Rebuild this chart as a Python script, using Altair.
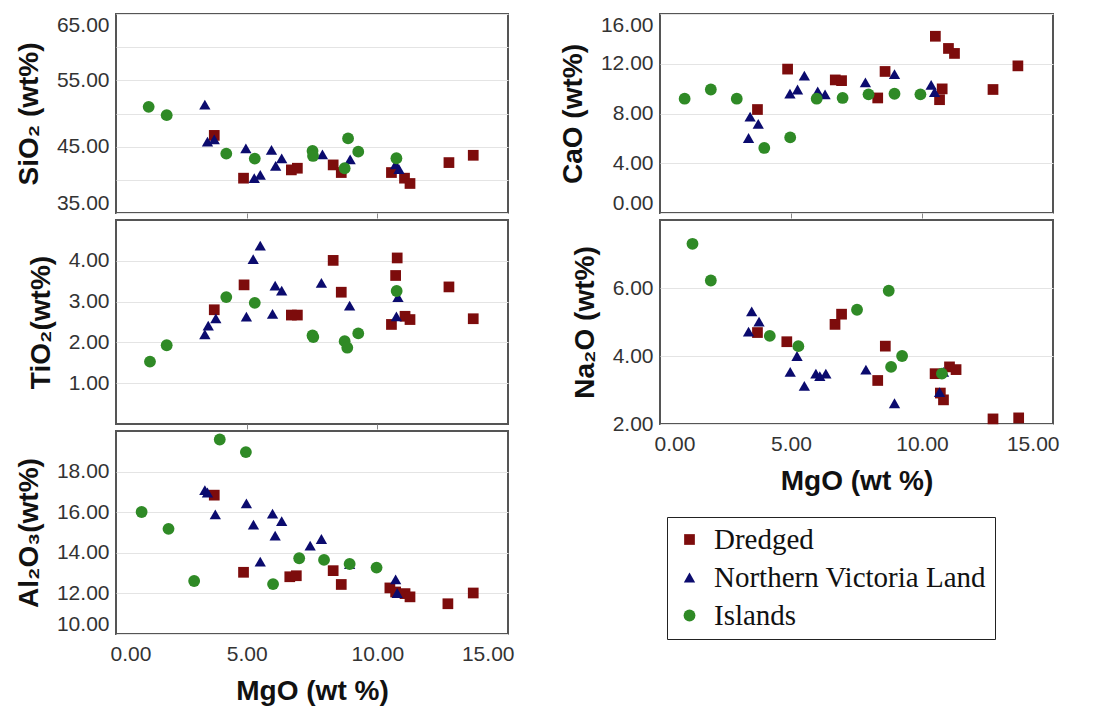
import altair as alt
import pandas as pd

GROUPS = ["Dredged", "Northern Victoria Land", "Islands"]
COLORS = ["#7d0c0c", "#0b0b6e", "#2f8a26"]
SHAPES = ["square", "triangle-up", "circle"]
SIZES = [115, 140, 80]

# ---- SiO2 panel ----
sio2_d_x = [3.76, 4.88, 6.71, 6.94, 8.31, 8.62, 10.54, 11.04, 11.25, 12.74, 13.67]
sio2_d_y = [46.7, 40.25, 41.5, 41.75, 42.25, 41.1, 41.1, 40.25, 39.45, 42.6, 43.7]
sio2_n_x = [3.40, 3.50, 3.76, 4.97, 5.29, 5.52, 5.95, 6.11, 6.34, 7.90, 8.96, 10.70, 10.83]
sio2_n_y = [51.35, 45.75, 46.1, 44.75, 40.25, 40.75, 44.5, 42.1, 43.25, 43.85, 43.1, 42.35, 41.6]
sio2_i_x = [1.25, 1.94, 4.22, 5.31, 7.52, 7.54, 8.88, 9.27, 8.75, 10.73]
sio2_i_y = [51.0, 49.75, 43.95, 43.2, 44.35, 43.6, 46.25, 44.25, 41.75, 43.25]

# ---- TiO2 panel ----
tio2_d_x = [3.76, 4.90, 6.71, 6.94, 8.31, 8.62, 10.54, 10.70, 10.76, 11.06, 11.25, 12.74, 13.67]
tio2_d_y = [2.80, 3.41, 2.67, 2.67, 4.01, 3.23, 2.44, 3.64, 4.07, 2.64, 2.56, 3.36, 2.58]
tio2_n_x = [3.40, 3.53, 3.82, 4.99, 5.25, 5.52, 5.99, 6.09, 6.34, 7.86, 8.94, 10.73, 10.79]
tio2_n_y = [2.20, 2.41, 2.59, 2.63, 4.04, 4.37, 2.70, 3.39, 3.27, 3.46, 2.90, 2.64, 3.11]
tio2_i_x = [1.30, 1.94, 4.22, 5.31, 7.52, 7.55, 8.75, 8.85, 9.27, 10.74]
tio2_i_y = [1.53, 1.93, 3.11, 2.97, 2.17, 2.13, 2.03, 1.87, 2.22, 3.26]

# ---- Al2O3 panel ----
al_d_x = [3.76, 4.88, 6.65, 6.90, 8.31, 8.62, 10.48, 10.70, 11.06, 11.25, 12.70, 13.67]
al_d_y = [16.84, 13.04, 12.82, 12.87, 13.12, 12.44, 12.27, 12.07, 11.99, 11.83, 11.49, 12.02]
al_n_x = [3.40, 3.50, 3.80, 4.99, 5.26, 5.52, 5.99, 6.09, 6.34, 7.43, 7.86, 8.94, 10.70, 10.76]
al_n_y = [17.09, 16.97, 15.89, 16.44, 15.39, 13.57, 15.93, 14.85, 15.56, 14.35, 14.68, 13.44, 12.69, 12.02]
al_i_x = [0.98, 2.01, 2.99, 3.97, 4.97, 6.01, 7.01, 7.96, 8.94, 9.97]
al_i_y = [16.01, 15.18, 12.61, 19.58, 18.96, 12.46, 13.73, 13.65, 13.45, 13.27]

# ---- CaO panel ----
cao_d_x = [3.72, 4.87, 6.69, 6.93, 8.31, 8.59, 10.51, 10.67, 10.77, 11.01, 11.24, 12.71, 13.66]
cao_d_y = [8.32, 11.57, 10.70, 10.64, 9.25, 11.38, 14.21, 9.11, 9.98, 13.23, 12.83, 9.93, 11.83]
cao_n_x = [3.38, 3.44, 3.75, 4.96, 5.25, 5.51, 6.02, 6.30, 7.84, 8.95, 10.35, 10.48]
cao_n_y = [6.03, 7.74, 7.16, 9.59, 9.93, 11.04, 9.77, 9.54, 10.51, 11.17, 10.30, 9.72]
cao_i_x = [0.94, 1.94, 2.93, 3.98, 4.97, 5.98, 6.97, 7.96, 8.95, 9.94]
cao_i_y = [9.19, 9.93, 9.19, 5.23, 6.08, 9.19, 9.25, 9.54, 9.59, 9.54]

# ---- Na2O panel ----
na_d_x = [3.72, 4.84, 6.68, 6.93, 8.31, 8.60, 10.50, 10.70, 10.82, 11.05, 11.30, 12.71, 13.69]
na_d_y = [4.69, 4.42, 4.93, 5.23, 3.28, 4.29, 3.48, 2.91, 2.71, 3.68, 3.60, 2.15, 2.18]
na_n_x = [3.38, 3.50, 3.78, 4.97, 5.23, 5.51, 5.95, 6.10, 6.33, 7.86, 8.95, 10.67, 10.82]
na_n_y = [4.72, 5.31, 5.01, 3.53, 4.00, 3.12, 3.48, 3.41, 3.48, 3.60, 2.61, 2.94, 3.53]
na_i_x = [1.24, 1.94, 4.19, 5.28, 7.52, 8.73, 8.82, 9.24, 10.76]
na_i_y = [7.30, 6.22, 4.59, 4.29, 5.36, 5.92, 3.68, 4.00, 3.48]


def frame(dx, dy, nx, ny, ix, iy):
    rows = []
    for g, xs, ys in zip(GROUPS, [dx, nx, ix], [dy, ny, iy]):
        for a, b in zip(xs, ys):
            rows.append({"MgO": a, "val": b, "Group": g})
    return pd.DataFrame(rows)


LABEL_FONT = "Liberation Sans"


def panel(df, ytitle, ydomain, yvalues, label_expr, bottom, width, height, yflush=True):
    if bottom:
        xaxis = alt.Axis(values=[0, 5, 10, 15], format=".2f", title="MgO (wt %)",
                         grid=False, domain=False, ticks=False, labelFontSize=21,
                         labelPadding=9, labelFlush=True, labelFlushOffset=6,
                         labelColor="#333", labelFont=LABEL_FONT,
                         titleFont=LABEL_FONT, titleFontSize=28, titleFontWeight="bold",
                         titleColor="#111", titlePadding=13, labelOverlap=False)
    else:
        xaxis = alt.Axis(values=[5, 10], labels=False, title=None, grid=False,
                         domain=False, ticks=True, tickSize=5, tickColor="#888")
    yaxis = alt.Axis(values=yvalues, labelExpr=label_expr, title=ytitle,
                     grid=True, gridColor="#e4e4e4", gridWidth=1.2, domain=False,
                     ticks=False, labelFontSize=21, labelPadding=7, labelColor="#333",
                     labelFont=LABEL_FONT, labelFlush=yflush, labelFlushOffset=0,
                     labelOverlap=False,
                     titleFont=LABEL_FONT, titleFontSize=28, titleFontWeight="bold",
                     titleColor="#111", titlePadding=13)
    return alt.Chart(df).mark_point(filled=True, opacity=1, strokeWidth=0).encode(
        x=alt.X("MgO:Q", scale=alt.Scale(domain=[0, 15], nice=False, zero=False), axis=xaxis),
        y=alt.Y("val:Q", scale=alt.Scale(domain=ydomain, nice=False, zero=False), axis=yaxis),
        color=alt.Color("Group:N", scale=alt.Scale(domain=GROUPS, range=COLORS),
                        legend=alt.Legend(title=None)),
        shape=alt.Shape("Group:N", scale=alt.Scale(domain=GROUPS, range=SHAPES),
                        legend=alt.Legend(title=None)),
        size=alt.Size("Group:N", scale=alt.Scale(domain=GROUPS, range=SIZES), legend=None),
    ).properties(width=width, height=height)


fmt2 = "format(datum.value, '.2f')"
sio2 = panel(frame(sio2_d_x, sio2_d_y, sio2_n_x, sio2_n_y, sio2_i_x, sio2_i_y),
             "SiO₂ (wt%)", [35, 65], [35, 40, 45, 50, 55, 60, 65],
             "datum.value % 10 == 0 ? '' : format(datum.value, '.2f')", False, 392, 199)
tio2 = panel(frame(tio2_d_x, tio2_d_y, tio2_n_x, tio2_n_y, tio2_i_x, tio2_i_y),
             "TiO₂(wt%)", [0, 5], [1, 2, 3, 4], fmt2, False, 392, 204)
al2o3 = panel(frame(al_d_x, al_d_y, al_n_x, al_n_y, al_i_x, al_i_y),
              "Al₂O₃(wt%)", [10, 20], [10, 12, 14, 16, 18], fmt2, True, 392, 203)
cao = panel(frame(cao_d_x, cao_d_y, cao_n_x, cao_n_y, cao_i_x, cao_i_y),
            "CaO (wt%)", [0, 16], [0, 4, 8, 12, 16], fmt2, False, 393, 199)
na2o = panel(frame(na_d_x, na_d_y, na_n_x, na_n_y, na_i_x, na_i_y),
             "Na₂O (wt%)", [2, 8], [2, 4, 6], fmt2, True, 393, 204, yflush=False)

chart = alt.concat(
    sio2, cao, tio2, na2o, al2o3,
    columns=2, spacing={"row": 7, "column": 152}, bounds="flush",
).properties(
    padding={"left": 14, "top": 13, "right": 5, "bottom": 5},
    background="white",
).configure_view(
    stroke="#555", strokeWidth=2
).configure_legend(
    orient="none", legendX=551, legendY=503,
    strokeColor="#222", padding=8, symbolSize=185, symbolStrokeWidth=0,
    labelFont="Liberation Serif", labelFontSize=29, labelColor="#111",
    labelOffset=10, rowPadding=8, symbolOpacity=1,
    labelLimit=400,
)

chart.save("out.html", embed_options={"renderer": "svg", "actions": False})
